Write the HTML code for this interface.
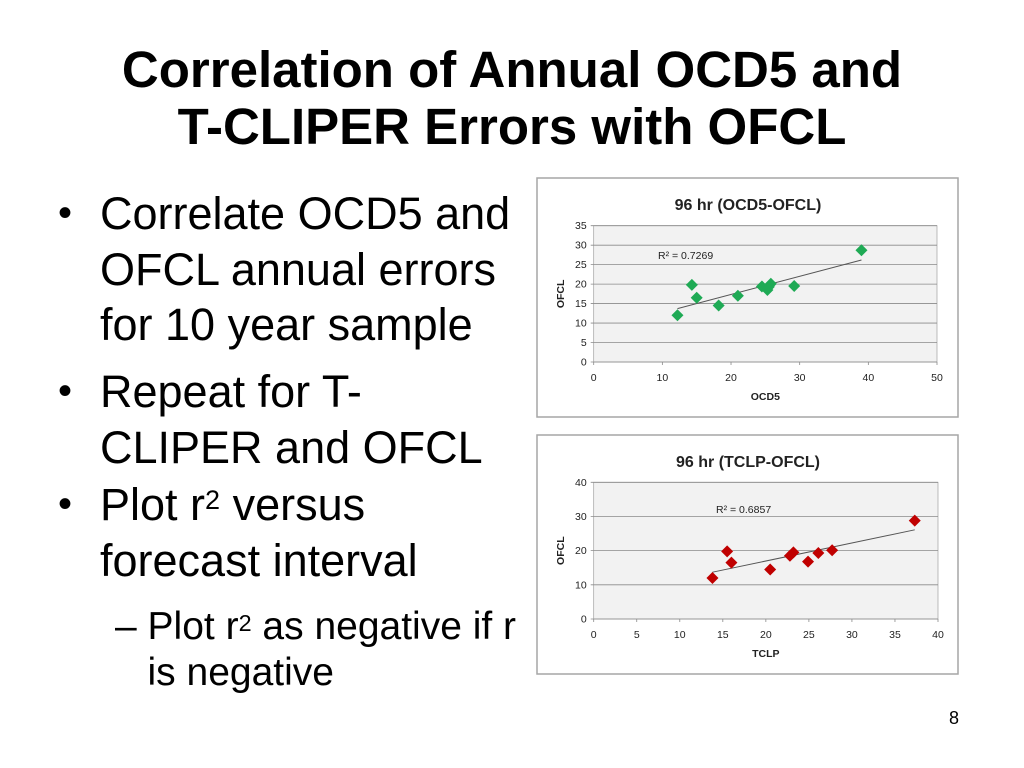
<!DOCTYPE html>
<html><head><meta charset="utf-8"><style>
body{margin:0;width:1024px;height:768px;background:#fff;position:relative;overflow:hidden;font-family:"Liberation Sans",Arial,sans-serif;}
h1{position:absolute;left:0;top:41px;width:1024px;margin:0;text-align:center;font-size:51px;line-height:57px;font-weight:bold;color:#000;}
.b{position:absolute;font-size:45px;line-height:55.5px;color:#000;}
.dot{position:absolute;font-size:40px;line-height:55.5px;}
.s{position:absolute;font-size:39px;line-height:46px;}
sup{font-size:60%;vertical-align:top;position:relative;top:-4px;}
svg{position:absolute;left:0;top:0;}
</style></head><body>
<h1>Correlation of Annual OCD5 and<br>T-CLIPER Errors with OFCL</h1>
<div class="dot" style="left:58px;top:186px">•</div>
<div class="b" style="left:100px;top:186px">Correlate OCD5 and<br>OFCL annual errors<br>for 10 year sample</div>
<div class="dot" style="left:58px;top:364px">•</div>
<div class="b" style="left:100px;top:364px">Repeat for T-<br>CLIPER and OFCL</div>
<div class="dot" style="left:58px;top:477px">•</div>
<div class="b" style="left:100px;top:477px">Plot r<sup>2</sup> versus<br>forecast interval</div>
<div class="s" style="left:115px;top:604px">– Plot r<sup>2</sup> as negative if r<br>&nbsp;&nbsp;&nbsp;is negative</div>
<div style="position:absolute;left:949px;top:708px;font-size:18px">8</div>
<svg id="svg" width="1024" height="768"></svg>
<script>
const ocdX=[12.2,14.3,15,18.2,21,24.5,25.3,25.5,25.8,29.2,39];
const ocdY=[12,19.8,16.5,14.5,17,19.4,18.5,19.3,20.1,19.5,28.7];
const ocdTrend=[[12.2,13.7],[39,26.2]];
const ocdXTicks=[0,10,20,30,40,50];
const ocdYTicks=[0,5,10,15,20,25,30,35];
const tclpX=[13.8,15.5,16,20.5,22.8,23.2,24.9,26.1,27.7,37.3];
const tclpY=[12,19.8,16.5,14.5,18.5,19.5,16.8,19.3,20.1,28.8];
const tclpTrend=[[13.8,13.7],[37.3,26.1]];
const tclpXTicks=[0,5,10,15,20,25,30,35,40];
const tclpYTicks=[0,10,20,30,40];
const NS="http://www.w3.org/2000/svg";
const svg=document.getElementById('svg');
function el(t,a,p){const e=document.createElementNS(NS,t);for(const k in a)e.setAttribute(k,a[k]);(p||svg).appendChild(e);return e;}
function chart(o){
  const g=el('g',{});
  
  
  const bx=el('rect',{x:o.bx,y:o.by,width:421,height:239,fill:'#fff',stroke:'#a6a6a6','stroke-width':1.5},g);
  
  
  const sx=v=>o.x0+(v-o.xmin)/(o.xmax-o.xmin)*(o.x1-o.x0);
  const sy=v=>o.y0-(v-o.ymin)/(o.ymax-o.ymin)*(o.y0-o.y1);
  const pa=el('rect',{x:o.x0,y:o.y1,width:o.x1-o.x0,height:o.y0-o.y1,fill:'#f2f2f2',stroke:'#a0a0a0','stroke-width':0.7},g);
  
  
  o.yt.forEach(v=>{
    const l=el('line',{x1:o.x0-3,x2:o.x1,y1:sy(v),y2:sy(v),stroke:'#8a8a8a','stroke-width':0.8},g);
    
    
    const t=el('text',{x:o.x0-7,y:sy(v)+3.5,'text-anchor':'end','font-size':10.5,fill:'#222'},g);t.textContent=v;
    
    
  });
  o.xt.forEach(v=>{
    const l=el('line',{x1:sx(v),x2:sx(v),y1:o.y0,y2:o.y0+3,stroke:'#8a8a8a','stroke-width':0.8},g);
    
    
    const t=el('text',{x:sx(v),y:o.y0+19,'text-anchor':'middle','font-size':10.5,fill:'#222'},g);t.textContent=v;
    
    
  });
  const tl=el('line',{x1:sx(o.tr[0][0]),y1:sy(o.tr[0][1]),x2:sx(o.tr[1][0]),y2:sy(o.tr[1][1]),stroke:'#555','stroke-width':1},g);
  
  
  o.xs.forEach((x,i)=>{
    const cx=sx(x),cy=sy(o.ys[i]),r=6;
    const p=el('polygon',{points:`${cx},${cy-r} ${cx+r},${cy} ${cx},${cy+r} ${cx-r},${cy}`,fill:o.col},g);
    
    
  });
  const t1=el('text',{x:o.bx+211,y:o.by+32,'text-anchor':'middle','font-size':16,'font-weight':'bold',fill:'#222'},g);t1.textContent=o.title;
  
  
  const t2=el('text',{x:(o.x0+o.x1)/2,y:o.by+222,'text-anchor':'middle','font-size':10.5,'font-weight':'bold',fill:'#222'},g);t2.textContent=o.xl;
  
  
  const yc=(o.y0+o.y1)/2;
  const t3=el('text',{x:o.bx+27,y:yc,'text-anchor':'middle','font-size':10.5,'font-weight':'bold',fill:'#222',transform:`rotate(-90 ${o.bx+27} ${yc})`},g);t3.textContent='OFCL';
  
  
  const t4=el('text',{x:o.rx,y:o.ry,'font-size':10.5,fill:'#222'},g);t4.textContent=o.r2;
  
  
}
chart({name:'ocd5-chart',bx:537,by:178,x0:593.7,x1:937,y0:362,y1:225.7,xmin:0,xmax:50,ymin:0,ymax:35,xt:ocdXTicks,yt:ocdYTicks,xs:ocdX,ys:ocdY,tr:ocdTrend,col:'#1faa55',title:'96 hr (OCD5-OFCL)',xl:'OCD5',r2:'R² = 0.7269',rx:658,ry:259});
chart({name:'tclp-chart',bx:537,by:435,x0:593.7,x1:938,y0:619,y1:482.3,xmin:0,xmax:40,ymin:0,ymax:40,xt:tclpXTicks,yt:tclpYTicks,xs:tclpX,ys:tclpY,tr:tclpTrend,col:'#c00000',title:'96 hr (TCLP-OFCL)',xl:'TCLP',r2:'R² = 0.6857',rx:716,ry:513});
</script>
</body></html>
